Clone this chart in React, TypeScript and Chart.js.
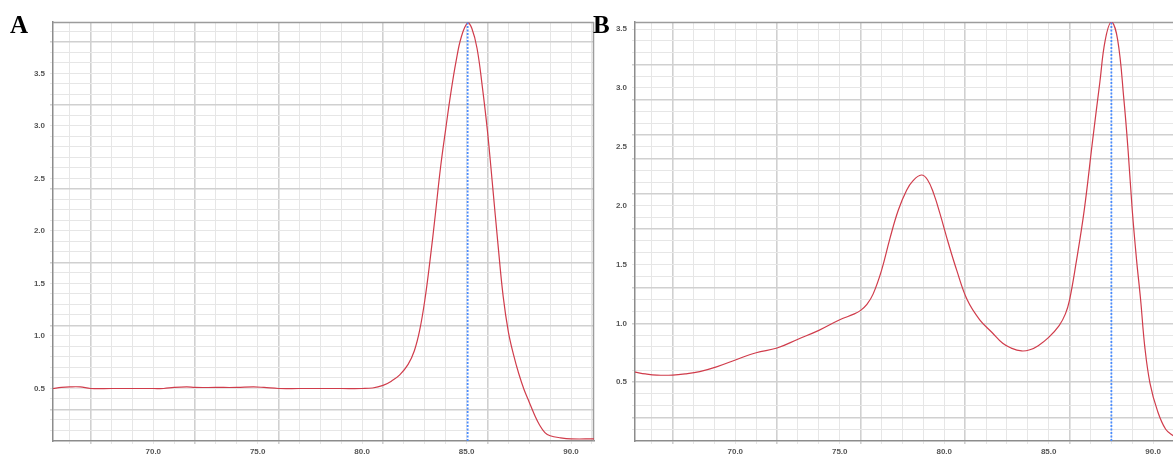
import React, { useEffect, useRef } from 'react';
import { Chart, registerables } from 'chart.js';
Chart.register(...registerables);

// Panel A: melting curve (temperature °C vs. -dF/dT)
const TEMP_A = [65.2, 65.6, 66.0, 66.5, 67.0, 68.0, 69.0, 70.0, 70.5, 71.0, 71.6, 72.0, 73.0, 74.0, 74.8, 75.3, 76.0, 77.0, 78.0, 79.0, 80.0, 80.5, 81.0, 81.4, 81.8, 82.2, 82.5, 82.75, 83.0, 83.25, 83.5, 83.75, 84.0, 84.25, 84.5, 84.75, 85.05, 85.25, 85.5, 85.75, 86.0, 86.25, 86.5, 86.75, 87.0, 87.25, 87.5, 87.75, 88.0, 88.25, 88.5, 88.75, 89.0, 89.5, 90.0, 91.1];
const FLUOR_A = [0.50, 0.51, 0.515, 0.515, 0.50, 0.50, 0.50, 0.50, 0.50, 0.51, 0.515, 0.51, 0.51, 0.51, 0.515, 0.51, 0.50, 0.50, 0.50, 0.50, 0.50, 0.505, 0.53, 0.57, 0.63, 0.73, 0.86, 1.05, 1.34, 1.72, 2.15, 2.6, 2.97, 3.32, 3.62, 3.85, 3.98, 3.93, 3.74, 3.38, 2.95, 2.42, 1.88, 1.38, 1.04, 0.82, 0.64, 0.49, 0.37, 0.25, 0.15, 0.08, 0.05, 0.03, 0.02, 0.02];

// Panel B
const TEMP_B = [65.2, 65.7, 66.25, 67.0, 67.6, 68.3, 69.1, 70.1, 71.0, 72.0, 73.0, 74.0, 75.0, 75.7, 76.0, 76.3, 76.6, 77.0, 77.4, 77.8, 78.2, 78.5, 78.9, 79.2, 79.5, 79.8, 80.2, 80.6, 81.1, 81.7, 82.3, 82.8, 83.2, 83.7, 84.1, 84.5, 85.0, 85.5, 85.8, 86.0, 86.3, 86.7, 87.1, 87.45, 87.7, 88.0, 88.3, 88.6, 88.8, 89.0, 89.2, 89.4, 89.6, 89.85, 90.2, 90.6, 91.0];
const FLUOR_B = [0.585, 0.57, 0.56, 0.56, 0.57, 0.59, 0.63, 0.695, 0.75, 0.79, 0.865, 0.94, 1.03, 1.08, 1.11, 1.16, 1.25, 1.45, 1.72, 1.96, 2.13, 2.21, 2.26, 2.22, 2.1, 1.93, 1.68, 1.45, 1.2, 1.03, 0.92, 0.83, 0.79, 0.765, 0.775, 0.81, 0.88, 0.98, 1.08, 1.2, 1.5, 1.96, 2.55, 3.05, 3.4, 3.56, 3.41, 2.9, 2.47, 1.96, 1.55, 1.2, 0.8, 0.49, 0.26, 0.1, 0.04];

const PEAK_A = 85.05;
const PEAK_B = 88.0;

const X_LABELS = [70, 75, 80, 85, 90];
const Y_LABELS = [0.5, 1.0, 1.5, 2.0, 2.5, 3.0, 3.5];
const X_DARK = [67, 72, 76, 81, 86];
const Y_DARK_A = [0.3, 1.1, 1.7, 2.4, 3.2, 3.8];
const Y_DARK_B = [0.2, 0.5, 1.0, 1.3, 1.8, 2.1, 2.4, 2.6, 2.9, 3.2];

const near = (arr: number[], v: number) => arr.some((a) => Math.abs(a - v) < 1e-6);

type PanelProps = {
  temps: number[];
  values: number[];
  peak: number;
  xMin: number;
  xMax: number;
  yMax: number;
  yDark: number[];
  yAxisWidth: number;
  width: number;
  left: number;
  padRight: number;
  frameRight: boolean;
};

function Panel(p: PanelProps) {
  const ref = useRef<HTMLCanvasElement>(null);
  useEffect(() => {
    if (!ref.current) return;
    const frame = {
      id: 'frame',
      beforeDatasetsDraw(chart: any) {
        const { ctx, chartArea } = chart;
        const { left, right, top, bottom } = chartArea;
        ctx.save();
        ctx.strokeStyle = '#9c9c9c';
        ctx.lineWidth = 1.5;
        ctx.beginPath();
        ctx.moveTo(left, top + 0.5);
        ctx.lineTo(right, top + 0.5);
        if (p.frameRight) {
          ctx.moveTo(right - 0.5, top);
          ctx.lineTo(right - 0.5, bottom);
        }
        ctx.stroke();
        ctx.restore();
      },
    };
    const tickFont = { family: "'Liberation Sans', Arial, sans-serif", size: 8, weight: 'bold' as const };
    const chart = new Chart(ref.current, {
      type: 'line',
      data: {
        datasets: [
          {
            data: [
              { x: p.peak, y: 0 },
              { x: p.peak, y: p.yMax },
            ],
            borderColor: '#4a8cff',
            borderWidth: 1.8,
            borderDash: [2, 1.5],
            pointRadius: 0,
          },
          {
            data: p.temps.map((t, i) => ({ x: t, y: p.values[i] })),
            borderColor: '#d03c4b',
            borderWidth: 1.2,
            pointRadius: 0,
            tension: 0.4,
          },
        ],
      },
      options: {
        animation: false,
        responsive: false,
        devicePixelRatio: 1,
        layout: { padding: { top: 22, right: p.padRight, left: 0, bottom: 0 } },
        plugins: { legend: { display: false }, tooltip: { enabled: false } },
        scales: {
          x: {
            type: 'linear',
            min: p.xMin,
            max: p.xMax,
            afterBuildTicks: (s: any) => {
              const t = [];
              for (let v = Math.ceil(p.xMin); v <= Math.floor(p.xMax); v++) t.push({ value: v });
              s.ticks = t;
            },
            afterFit: (s: any) => {
              s.height = 15;
            },
            grid: {
              color: (c: any) => (c.tick && near(X_DARK, c.tick.value) ? '#d0d0d0' : '#e6e6e6'),
              lineWidth: (c: any) => (c.tick && near(X_DARK, c.tick.value) ? 1.6 : 1),
              tickLength: 3,
            },
            border: { color: '#8c8c8c', width: 1.5 },
            ticks: {
              autoSkip: false,
              maxRotation: 0,
              padding: 3,
              font: tickFont,
              color: '#555',
              callback: (v: any) => (near(X_LABELS, Number(v)) ? Number(v).toFixed(1) : ''),
            },
          },
          y: {
            type: 'linear',
            min: 0,
            max: p.yMax,
            afterBuildTicks: (s: any) => {
              const t = [];
              for (let i = 1; i <= Math.floor(p.yMax * 10 + 1e-6); i++) t.push({ value: i / 10 });
              s.ticks = t;
            },
            afterFit: (s: any) => {
              s.width = p.yAxisWidth;
            },
            grid: {
              color: (c: any) => (c.tick && near(p.yDark, c.tick.value) ? '#d0d0d0' : '#e6e6e6'),
              lineWidth: (c: any) => (c.tick && near(p.yDark, c.tick.value) ? 1.6 : 1),
              tickLength: 3,
            },
            border: { color: '#8c8c8c', width: 1.5 },
            ticks: {
              autoSkip: false,
              padding: 5,
              font: tickFont,
              color: '#555',
              callback: (v: any) => (near(Y_LABELS, Number(v)) ? Number(v).toFixed(1) : ''),
            },
          },
        },
      },
      plugins: [frame],
    } as any);
    return () => chart.destroy();
  }, []);
  return (
    <canvas
      ref={ref}
      width={p.width}
      height={456}
      style={{ position: 'absolute', left: p.left, top: 0, width: p.width, height: 456 }}
    />
  );
}

const letterStyle: React.CSSProperties = {
  position: 'absolute',
  top: 12,
  fontFamily: "'Liberation Serif', 'Times New Roman', serif",
  fontWeight: 'bold',
  fontSize: 25,
  lineHeight: '25px',
  color: '#000',
  zIndex: 2,
};

export default function App() {
  return (
    <div style={{ position: 'absolute', left: 0, top: 0, width: 1173, height: 456, background: '#fff', overflow: 'hidden' }}>
      <Panel
        temps={TEMP_A}
        values={FLUOR_A}
        peak={PEAK_A}
        xMin={65.2}
        xMax={91.1}
        yMax={3.99}
        yDark={Y_DARK_A}
        yAxisWidth={53}
        width={596}
        left={0}
        padRight={2}
        frameRight={true}
      />
      <Panel
        temps={TEMP_B}
        values={FLUOR_B}
        peak={PEAK_B}
        xMin={65.2}
        xMax={90.95}
        yMax={3.56}
        yDark={Y_DARK_B}
        yAxisWidth={40}
        width={578}
        left={595}
        padRight={0}
        frameRight={false}
      />
      <div style={{ ...letterStyle, left: 10 }}>A</div>
      <div style={{ ...letterStyle, left: 593 }}>B</div>
    </div>
  );
}
